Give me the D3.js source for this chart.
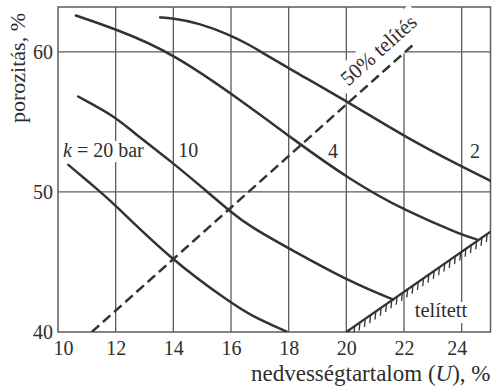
<!DOCTYPE html>
<html>
<head>
<meta charset="utf-8">
<script src="https://cdn.jsdelivr.net/npm/d3@7"></script>
<style>
  body { margin: 0; background: #fff; }
  svg { display: block; }
  svg text { font-family: "Liberation Serif", "Tinos", "DejaVu Serif", serif; fill: #2e2e2e; }
</style>
</head>
<body>
<svg id="chart" width="492" height="388"></svg>
<script>
// Tick values
const xTicks = [10, 12, 14, 16, 18, 20, 22, 24];
const yTicks = [40, 50, 60];
const xGrid = [12, 14, 16, 18, 20, 22, 24];
const yGrid = [50, 60];

// Porosity (%) against moisture content U (%), one curve per compaction pressure k (bar)
const curveK2 = [[13.54, 62.45], [13.94, 62.41], [14.88, 62.06], [15.96, 61.21], [16.66, 60.47],
                 [17.0, 60.04], [18.1, 58.71], [20.12, 56.34], [22.09, 53.86], [24.0, 51.81], [25.0, 50.79]];
const curveK4 = [[10.62, 62.59], [11.98, 61.64], [13.95, 59.98], [16.66, 56.07], [18.1, 53.84],
                 [20.12, 50.86], [22.09, 48.59], [24.02, 46.93], [24.52, 46.61]];
const curveK10 = [[10.7, 56.81], [11.98, 55.38], [12.5, 54.43], [13.94, 52.16], [15.17, 50.02],
                  [15.94, 48.66], [16.66, 47.52], [18.1, 45.86], [20.12, 43.59], [21.63, 42.31]];
const curveK20 = [[10.36, 51.93], [11.46, 50.02], [11.98, 49.07], [13.94, 45.14], [16.0, 42.07],
                  [16.66, 41.21], [17.93, 40.02]];

// 50 % saturation line and full saturation boundary
const halfSaturation = [[11.17, 40.0], [22.38, 60.62]];
const fullSaturation = [[20.0, 40.0], [25.0, 47.16]];

// Curve labels: [text, U, porosity at baseline]
const curveLabels = [["10", 14.17, 52.5], ["4", 19.36, 52.43], ["2", 24.29, 52.43]];

const svg = d3.select("#chart");
const plotLeft = 58, plotRight = 490.5, plotTop = 7, plotBottom = 332;
const x = d3.scaleLinear().domain([10, 25]).range([plotLeft, plotRight]);
const y = d3.scaleLinear().domain([40, 63.2]).range([plotBottom, plotTop]);

const FONT = '"Liberation Serif", "Tinos", "DejaVu Serif", serif';
const ink = "#333";
const gridInk = "#5c5c5c";

// grid
const grid = svg.append("g");
grid.selectAll("line.v").data(xGrid).join("line")
  .attr("x1", d => x(d)).attr("x2", d => x(d))
  .attr("y1", plotTop).attr("y2", plotBottom)
  .attr("stroke", gridInk).attr("stroke-width", 1.3);
grid.selectAll("line.h").data(yGrid).join("line")
  .attr("y1", d => y(d)).attr("y2", d => y(d))
  .attr("x1", plotLeft).attr("x2", plotRight)
  .attr("stroke", gridInk).attr("stroke-width", 1.3);
svg.append("rect")
  .attr("x", plotLeft).attr("y", plotTop)
  .attr("width", plotRight - plotLeft).attr("height", plotBottom - plotTop)
  .attr("fill", "none").attr("stroke", gridInk).attr("stroke-width", 1.5);

// 50 % saturation label geometry (parallel to the dashed line)
const halfAt = u => halfSaturation[0][1] + (u - halfSaturation[0][0]) *
  (halfSaturation[1][1] - halfSaturation[0][1]) / (halfSaturation[1][0] - halfSaturation[0][0]);
const p0 = [x(halfSaturation[0][0]), y(halfSaturation[0][1])];
const p1 = [x(halfSaturation[1][0]), y(halfSaturation[1][1])];
const ang = Math.atan2(p1[1] - p0[1], p1[0] - p0[0]);
const dir = [Math.cos(ang), Math.sin(ang)];
const nrm = [dir[1], -dir[0]];
const base = [x(20.12), y(halfAt(20.12))];
const anchor = [base[0] + 8.7 * dir[0] + 12 * nrm[0], base[1] + 8.7 * dir[1] + 12 * nrm[1]];
const angDeg = ang * 180 / Math.PI;

// white boxes behind labels that sit on the grid
const boxes = svg.append("g").attr("fill", "#fff");
boxes.append("rect")
  .attr("transform", `translate(${anchor[0]},${anchor[1]}) rotate(${angDeg})`)
  .attr("x", -6).attr("y", -21).attr("width", 106).attr("height", 33);
boxes.append("rect").attr("x", 61).attr("y", 141).attr("width", 86).attr("height", 21);
boxes.append("rect").attr("x", 412).attr("y", 302).attr("width", 58).attr("height", 21);

// clip for marks
svg.append("clipPath").attr("id", "plot")
  .append("rect").attr("x", plotLeft).attr("y", plotTop)
  .attr("width", plotRight - plotLeft).attr("height", plotBottom - plotTop);

const marks = svg.append("g").attr("clip-path", "url(#plot)");
const line = d3.line().x(d => x(d[0])).y(d => y(d[1])).curve(d3.curveBasis);

[curveK2, curveK4, curveK10, curveK20].forEach(c => {
  marks.append("path").datum(c).attr("d", line)
    .attr("fill", "none").attr("stroke", ink).attr("stroke-width", 2.5)
    .attr("stroke-linecap", "round");
});

const straight = d3.line().x(d => x(d[0])).y(d => y(d[1]));
marks.append("path").datum(halfSaturation).attr("d", straight)
  .attr("fill", "none").attr("stroke", ink).attr("stroke-width", 2.5)
  .attr("stroke-dasharray", "10,5");

marks.append("path").datum(fullSaturation).attr("d", straight)
  .attr("fill", "none").attr("stroke", ink).attr("stroke-width", 2.2);

// hatching under the saturation boundary
const s0 = [x(fullSaturation[0][0]), y(fullSaturation[0][1])];
const s1 = [x(fullSaturation[1][0]), y(fullSaturation[1][1])];
const satY = px => s0[1] + (px - s0[0]) * (s1[1] - s0[1]) / (s1[0] - s0[0]);
const hatchX = d3.range(s0[0] + 3, s1[0], 5.3);
marks.selectAll("line.hatch").data(hatchX).join("line")
  .attr("x1", d => d).attr("y1", d => satY(d))
  .attr("x2", d => d - 0.8).attr("y2", d => satY(d) + 8)
  .attr("stroke", ink).attr("stroke-width", 1.3);

// axes (labels only; grid lines drawn above)
const xAxis = svg.append("g").attr("transform", `translate(0,${plotBottom})`)
  .call(d3.axisBottom(x).tickValues(xTicks).tickSize(0).tickPadding(9));
xAxis.select(".domain").remove();
xAxis.selectAll("text")
  .attr("font-size", 20).attr("fill", "#333")
  .attr("dx", d => d === 10 ? 5 : d === 24 ? -5 : 0);

const yAxis = svg.append("g").attr("transform", `translate(${plotLeft},0)`)
  .call(d3.axisLeft(y).tickValues(yTicks).tickSize(0).tickPadding(5));
yAxis.select(".domain").remove();
yAxis.selectAll("text")
  .attr("font-size", 20).attr("fill", "#333");

// axis titles
const xt = svg.append("text")
  .attr("x", plotRight).attr("y", 381)
  .attr("text-anchor", "end").attr("font-size", 23);
xt.append("tspan").text("nedvességtartalom (");
xt.append("tspan").attr("font-style", "italic").text("U");
xt.append("tspan").text("), %");

svg.append("text")
  .attr("transform", "translate(25,13) rotate(-90)")
  .attr("text-anchor", "end").attr("font-size", 22)
  .text("porozitás, %");

// curve labels
const kl = svg.append("text").attr("x", 63).attr("y", 157).attr("font-size", 20);
kl.append("tspan").attr("font-style", "italic").text("k");
kl.append("tspan").text(" = 20 bar");

svg.selectAll("text.cl").data(curveLabels).join("text")
  .attr("class", "cl")
  .attr("x", d => x(d[1])).attr("y", d => y(d[2]))
  .attr("font-size", 20).text(d => d[0]);

svg.append("text")
  .attr("transform", `translate(${anchor[0]},${anchor[1]}) rotate(${angDeg})`)
  .attr("font-size", 21).text("50% telítés");

svg.append("text").attr("x", 441).attr("y", 317)
  .attr("text-anchor", "middle").attr("font-size", 20.5).text("telített");

svg.selectAll("text").attr("font-family", FONT);
</script>
</body>
</html>
